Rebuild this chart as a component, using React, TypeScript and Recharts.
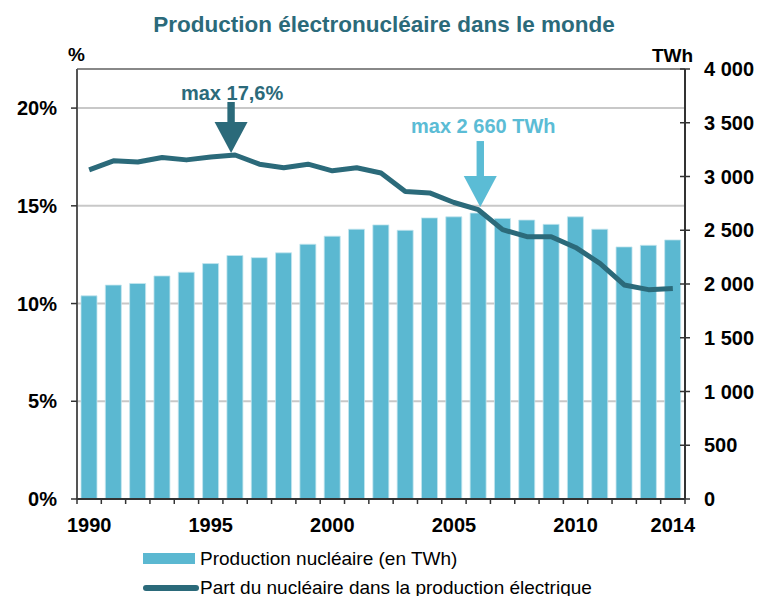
import { ComposedChart, Bar, Line, XAxis, YAxis, CartesianGrid, ReferenceDot, ReferenceLine, Legend } from "recharts";

const years = [
  1990, 1991, 1992, 1993, 1994, 1995, 1996, 1997, 1998, 1999, 2000, 2001, 2002,
  2003, 2004, 2005, 2006, 2007, 2008, 2009, 2010, 2011, 2012, 2013, 2014,
];
// production nucléaire mondiale, TWh
const productionTWh = [
  1890, 1990, 2005, 2075, 2110, 2190, 2265, 2245, 2290, 2370, 2445, 2510, 2550,
  2500, 2615, 2625, 2660, 2610, 2595, 2555, 2625, 2510, 2345, 2360, 2410,
];
// part du nucléaire dans la production électrique, %
const nuclearShare = [
  16.84, 17.3, 17.24, 17.47, 17.35, 17.5, 17.6, 17.13, 16.95, 17.13, 16.79, 16.95, 16.68,
  15.73, 15.66, 15.17, 14.8, 13.78, 13.42, 13.42, 12.87, 12.06, 10.95, 10.71, 10.77,
];
const yearLabels = [1990, 1995, 2000, 2005, 2010, 2014];
const pctTicks = [0, 5, 10, 15, 20];
const twhTicks = [0, 500, 1000, 1500, 2000, 2500, 3000, 3500, 4000];

const data = years.map((year, i) => ({
  year,
  production: productionTWh[i],
  share: nuclearShare[i],
}));
const yearBounds = [...years.map((y) => y - 0.5), years[years.length - 1] + 0.5];
const xDomain = [yearBounds[0], yearBounds[yearBounds.length - 1]];

const FONT = "'Liberation Sans', Arial, sans-serif";
const DARK = "#2b6a7a";
const LIGHT = "#5bb8d1";
const ARROW_LIGHT = "#5bbcd5";

const fmtTwh = (v: number) =>
  v >= 1000 ? `${Math.floor(v / 1000)} ${String(v % 1000).padStart(3, "0")}` : String(v);

const RightTick = (props: any) => {
  const { x, y, payload } = props;
  return (
    <g>
      <line x1={x - 5} x2={x + 5} y1={y} y2={y} stroke="#333" strokeWidth={1.5} />
      <text x={x + 19} y={y} dy="0.355em" textAnchor="start" fontFamily={FONT} fontSize={20} fontWeight="bold" fill="#000">
        {fmtTwh(payload.value)}
      </text>
    </g>
  );
};

// petits traits entre les années, sous l'axe
const BoundTick = (props: any) => {
  const { x, y } = props;
  return <line x1={x} x2={x} y1={y - 1} y2={y + 5} stroke="#333" strokeWidth={1.5} />;
};

const ShareArrow = (props: any) => {
  const { cx, cy } = props;
  const ax = cx - 4;
  return (
    <g>
      <text x={cx - 3} y={cy - 55} textAnchor="middle" fontFamily={FONT} fontSize={20} fontWeight="bold" fill={DARK}>
        max 17,6%
      </text>
      <rect x={ax - 3.7} y={cy - 53} width={7.4} height={21} fill={DARK} />
      <polygon points={`${ax - 16.5},${cy - 33} ${ax + 16.5},${cy - 33} ${ax},${cy - 2}`} fill={DARK} />
    </g>
  );
};

const ProductionArrow = (props: any) => {
  const { cx, cy } = props;
  const ax = cx + 2;
  return (
    <g>
      <text x={cx + 5} y={cy - 80} textAnchor="middle" fontFamily={FONT} fontSize={20} fontWeight="bold" fill={ARROW_LIGHT}>
        max 2 660 TWh
      </text>
      <rect x={ax - 3.7} y={cy - 72} width={7.4} height={36} fill={ARROW_LIGHT} />
      <polygon points={`${ax - 16.5},${cy - 37} ${ax + 16.5},${cy - 37} ${ax},${cy - 6}`} fill={ARROW_LIGHT} />
    </g>
  );
};

const renderLegend = (props: any) => {
  const items = [...(props.payload || [])].sort(
    (a: any, b: any) => (a.type === "line" ? 1 : 0) - (b.type === "line" ? 1 : 0)
  );
  return (
    <div style={{ fontFamily: FONT, fontSize: 19, color: "#000", lineHeight: "22px" }}>
      {items.map((entry: any) => (
        <div key={entry.value} style={{ display: "flex", alignItems: "center", height: 29 }}>
          {entry.type === "line" ? (
            <svg width={56} height={10}>
              <line x1={3} x2={53} y1={5} y2={5} stroke={entry.color} strokeWidth={6} strokeLinecap="round" />
            </svg>
          ) : (
            <div style={{ width: 52, height: 11, background: entry.color, marginRight: 4 }} />
          )}
          <span style={{ marginLeft: 1, whiteSpace: "nowrap" }}>{entry.value}</span>
        </div>
      ))}
    </div>
  );
};

export default function App() {
  return (
    <div style={{ position: "absolute", top: 0, left: 0, width: 760, height: 596, overflow: "hidden", background: "#fff" }}>
      <div style={{ position: "absolute", top: 12, left: 0, width: 768, textAlign: "center", fontFamily: FONT, fontSize: 22.5, fontWeight: "bold", color: DARK }}>
        Production électronucléaire dans le monde
      </div>
      <div style={{ position: "absolute", top: 44, left: 68, fontFamily: FONT, fontSize: 19, fontWeight: "bold" }}>%</div>
      <div style={{ position: "absolute", top: 45, left: 652, fontFamily: FONT, fontSize: 19, fontWeight: "bold" }}>TWh</div>
      <ComposedChart width={760} height={596} data={data} margin={{ top: 69, right: 0, bottom: 95, left: 0 }} style={{ position: "absolute", top: 0, left: 0 }}>
        <CartesianGrid yAxisId="pct" xAxisId="years" vertical={false} stroke="#c8c8c8" strokeWidth={2} />
        <XAxis
          xAxisId="bounds"
          dataKey="year"
          type="number"
          domain={xDomain}
          allowDataOverflow
          ticks={yearBounds}
          interval={0}
          tickSize={0}
          tickMargin={0}
          height={1}
          axisLine={{ stroke: "#333", strokeWidth: 2 }}
          tickLine={false}
          tick={(p: any) => <BoundTick {...p} />}
        />
        <XAxis
          xAxisId="years"
          dataKey="year"
          type="number"
          domain={xDomain}
          allowDataOverflow
          ticks={yearLabels}
          interval={0}
          height={1}
          axisLine={false}
          tickLine={false}
          tickSize={0}
          tickMargin={18}
          tick={{ fontFamily: FONT, fontSize: 20, fontWeight: "bold", fill: "#000" }}
        />
        <YAxis
          yAxisId="pct"
          orientation="left"
          width={77}
          domain={[0, 22]}
          ticks={pctTicks}
          interval={0}
          tickFormatter={(v: number) => `${v}%`}
          tickSize={6}
          tickMargin={14}
          axisLine={{ stroke: "#555", strokeWidth: 2 }}
          tickLine={{ stroke: "#333", strokeWidth: 1.5 }}
          tick={{ fontFamily: FONT, fontSize: 20, fontWeight: "bold", fill: "#000" }}
        />
        <YAxis
          yAxisId="twh"
          orientation="right"
          width={75}
          domain={[0, 4000]}
          ticks={twhTicks}
          interval={0}
          tickSize={0}
          tickMargin={0}
          tickLine={false}
          axisLine={{ stroke: "#333", strokeWidth: 2 }}
          tick={(p: any) => <RightTick {...p} />}
        />
        <ReferenceLine yAxisId="pct" xAxisId="years" y={22} stroke="#888" strokeWidth={2} />
        <Bar
          xAxisId="years"
          yAxisId="twh"
          dataKey="production"
          name="Production nucléaire (en TWh)"
          fill={LIGHT}
          stroke="#c4e6ef"
          strokeWidth={0.8}
          barSize={16}
          legendType="rect"
          isAnimationActive={false}
        />
        <Line
          xAxisId="bounds"
          yAxisId="pct"
          dataKey="share"
          name="Part du nucléaire dans la production électrique"
          type="linear"
          stroke={DARK}
          strokeWidth={5}
          strokeLinejoin="round"
          dot={false}
          activeDot={false}
          legendType="line"
          isAnimationActive={false}
        />
        <ReferenceDot xAxisId="bounds" yAxisId="pct" x={1996} y={17.6} shape={(p: any) => <ShareArrow {...p} />} />
        <ReferenceDot xAxisId="years" yAxisId="twh" x={2006} y={2660} shape={(p: any) => <ProductionArrow {...p} />} />
        <Legend
          layout="horizontal"
          verticalAlign="middle"
          align="center"
          content={renderLegend}
          wrapperStyle={{ top: 544, left: 143, width: 520, height: 52 }}
        />
      </ComposedChart>
    </div>
  );
}
